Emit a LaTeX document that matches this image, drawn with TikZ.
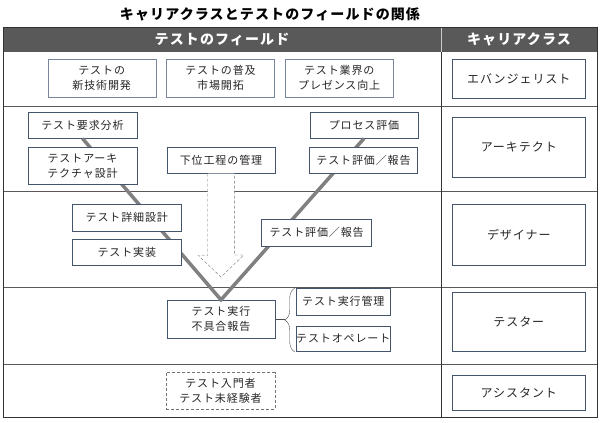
\documentclass[tikz,border=0pt]{standalone}
\usepackage{fontspec}
\setmainfont{Noto Sans CJK JP}[LetterSpace=8]
\usetikzlibrary{decorations.pathreplacing, calc}
\definecolor{boxedge}{RGB}{68,84,106}
\definecolor{boxedgelt}{RGB}{118,132,156}
\definecolor{headgray}{RGB}{89,89,89}
\definecolor{vgray}{RGB}{128,128,128}

\begin{document}
\begin{tikzpicture}[x=1pt, y=-1pt,
    field/.style={draw=boxedge, fill=white, align=center, inner sep=0pt, text=black!85,
      font=\fontsize{11}{15}\selectfont},
    lightedge/.style={draw=boxedgelt},
    role/.style={draw=boxedge, fill=white, inner sep=0pt, minimum width=133pt, text=black!85,
      font=\fontsize{12}{14}\selectfont},
    headtext/.style={text=white, font=\fontsize{14}{16}\selectfont\bfseries},
    vline/.style={line width=3.5pt, vgray, line join=miter},
    rowline/.style={line width=1pt, black!65},
    shortdash/.style={dash pattern=on 3pt off 2pt},
    mgmtarrow/.style={draw=black!55, shortdash, fill=white, thin}]
  \useasboundingbox (0,0) rectangle (600,423);
  \fill[white] (0,0) rectangle (600,423);

  % Title:
  \node[font=\fontsize{14}{16}\selectfont\bfseries] (title) at (270,14) {キャリアクラスとテストのフィールドの関係};

  % Table:
  \fill[headgray] (3,27.7) rectangle (597,51.7);
  \foreach \y in {51.7,106,191.5,287,364} \draw[rowline] (3,\y) -- (597,\y);
  \draw[black!80, thick] (3,27.7) rectangle (597,417.7);
  \draw[black!80] (441,51.7) -- (441,417.7);
  \draw[black!20] (441,27.7) -- (441,51.7);
  \node[headtext] (fieldhead) at (222,39.7) {テストのフィールド};
  \node[headtext] (rolehead) at (519,39.7) {キャリアクラス};

  % Career classes:
  \node[role, minimum height=38.4pt] (evangelist) at (518.8,78.5) {エバンジェリスト};
  \node[role, minimum height=60.7pt] (architect) at (518.8,147.3) {アーキテクト};
  \node[role, minimum height=61.7pt] (designer) at (518.8,234.8) {デザイナー};
  \node[role, minimum height=59.7pt] (tester) at (518.8,321.8) {テスター};
  \node[role, minimum height=34.3pt] (assistant) at (518.8,392.8) {アシスタント};

  % Row 1:
  \node[field, lightedge, minimum width=108pt, minimum height=38pt] (newtech) at (101.7,78.3) {テストの\\新技術開発};
  \node[field, lightedge, minimum width=108pt, minimum height=38pt] (spread) at (220.5,78.3) {テストの普及\\市場開拓};
  \node[field, lightedge, minimum width=108.5pt, minimum height=38pt] (presence) at (339.2,78.3) {テスト業界の\\プレゼンス向上};

  % Test execution box first, the V ends on it:
  \node[field, minimum width=108.3pt, minimum height=38.3pt] (exec) at (221,319.2) {テスト実行\\不具合報告};
  \node[field, minimum width=108.4pt, minimum height=26pt] (req) at (82.5,125.3) {テスト要求分析};
  \node[field, minimum width=108.3pt, minimum height=26pt] (proc) at (364,125.3) {プロセス評価};

  % V line:
  \draw[vline] (req.south) -- (exec.north) -- (proc.south);

  % Management arrow:
  \node[field, minimum width=108.3pt, minimum height=26pt] (mgmt) at (221,160.3) {下位工程の管理};
  \coordinate (tip) at (221,277);
  \draw[mgmtarrow] ([xshift=-13.3pt]mgmt.south) -- ++(0,82) -- ++(-9.4,0) -- (tip)
    -- ++(22.7,-22) -- ++(-9.4,0) -- ([xshift=13.3pt]mgmt.south);

  % Row 2:
  \node[field, minimum width=108.4pt, minimum height=36.7pt] (arch) at (82.5,165.7) {テストアーキ\\テクチャ設計};
  \node[field, minimum width=108pt, minimum height=26pt] (eval2) at (363.5,160.3) {テスト評価／報告};

  % Row 3:
  \node[field, minimum width=109.5pt, minimum height=26.4pt] (detail) at (126.8,217.5) {テスト詳細設計};
  \node[field, minimum width=109.5pt, minimum height=26pt] (impl) at (126.8,252) {テスト実装};
  \node[field, minimum width=110pt, minimum height=26.7pt] (eval3) at (316.6,232.7) {テスト評価／報告};

  % Row 4:
  \node[field, minimum width=94.7pt, minimum height=26.7pt] (mgr) at (343.3,301.7) {テスト実行管理};
  \node[field, minimum width=94.7pt, minimum height=25.7pt] (opm) at (343.3,338.8) {テストオペレート};
  \draw[black!70, decorate, decoration={brace, amplitude=10pt}]
    ([xshift=-1pt]opm.south west) -- ([xshift=-1pt]mgr.north west);
  \coordinate (bracetip) at ($($(mgr.north west)!0.5!(opm.south west)$)+(-11,0)$);
  \draw[black!70] (exec.east) -- (exec.east -| bracetip);

  % Row 5:
  \node[field, draw=black!55, shortdash, minimum width=109pt, minimum height=36.3pt] (novice) at (220.5,390.8) {テスト入門者\\テスト未経験者};
\end{tikzpicture}
\end{document}
